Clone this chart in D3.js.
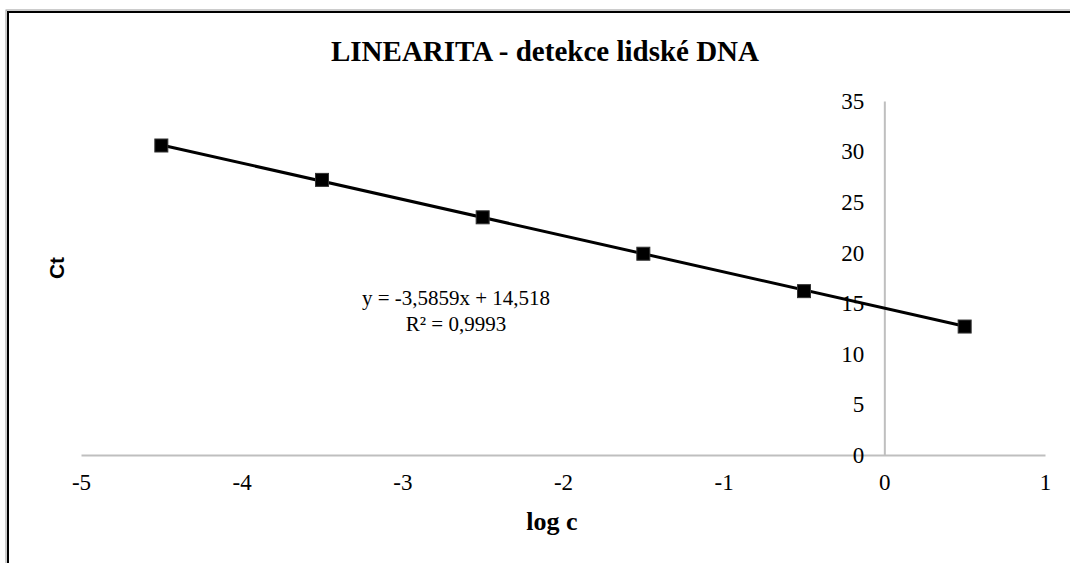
<!DOCTYPE html>
<html>
<head>
<meta charset="utf-8">
<script src="https://cdn.jsdelivr.net/npm/d3@7"></script>
<style>
  body { margin: 0; background: #fff; }
  svg { display: block; }
  .serif { font-family: "Liberation Serif", Tinos, "Times New Roman", Times, serif; }
</style>
</head>
<body>
<svg id="chart" width="1070" height="563"></svg>
<script>
// data
var logC = [-4.5, -3.5, -2.5, -1.5, -0.5, 0.5];
var ct = [30.6, 27.2, 23.5, 19.9, 16.2, 12.7];
var xTicks = [-5, -4, -3, -2, -1, 0, 1];
var yTicks = [0, 5, 10, 15, 20, 25, 30, 35];
// trendline as printed on the chart
var slope = -3.5859;
var intercept = 14.518;
var rSquared = "0,9993";

var svg = d3.select("#chart");

// outer frame (runs off the right and bottom edge)
svg.append("rect")
    .attr("x", 6).attr("y", 10)
    .attr("width", 1200).attr("height", 700)
    .style("fill", "none").style("stroke", "#999").style("stroke-width", 1);
svg.append("rect")
    .attr("x", 8).attr("y", 12)
    .attr("width", 1200).attr("height", 700)
    .style("fill", "none").style("stroke", "#000").style("stroke-width", 2);

var x = d3.scaleLinear().domain([-5, 1]).range([81, 1045]);
var y = d3.scaleLinear().domain([0, 35]).range([455, 101]);

// horizontal axis at y = 0
var xAxis = svg.append("g")
    .attr("transform", "translate(0," + y(0) + ")")
    .call(d3.axisBottom(x).tickValues(xTicks).tickSize(0).tickPadding(19)
        .tickFormat(function(d) { return d; }));
xAxis.attr("font-family", null).attr("font-size", null);
xAxis.select(".domain").style("stroke", "#bfbfbf").style("stroke-width", 2);
xAxis.selectAll("text").attr("class", "serif")
    .style("font-size", "23px").style("fill", "#000");

// vertical axis at x = 0, labels sit left of it
var yAxis = svg.append("g")
    .attr("transform", "translate(" + x(0) + ",0)")
    .call(d3.axisLeft(y).tickValues(yTicks).tickSize(0).tickPadding(20));
yAxis.attr("font-family", null).attr("font-size", null);
yAxis.select(".domain").style("stroke", "#bfbfbf").style("stroke-width", 2);
yAxis.selectAll("text").attr("class", "serif")
    .style("font-size", "23px").style("fill", "#000");

// linear trendline over the data range
var xMin = d3.min(logC), xMax = d3.max(logC);
svg.append("line")
    .attr("x1", x(xMin)).attr("y1", y(slope * xMin + intercept))
    .attr("x2", x(xMax)).attr("y2", y(slope * xMax + intercept))
    .style("stroke", "#000").style("stroke-width", 3);

// square markers
var pts = logC.map(function(d, i) { return {x: d, y: ct[i]}; });
svg.selectAll(".pt")
    .data(pts)
    .enter().append("rect")
    .attr("class", "pt")
    .attr("x", function(d) { return x(d.x) - 6.5; })
    .attr("y", function(d) { return y(d.y) - 6.5; })
    .attr("width", 13).attr("height", 13)
    .style("fill", "#000")
    .style("stroke", "#333").style("stroke-width", 1);

// title
svg.append("text")
    .attr("class", "serif")
    .attr("x", 545).attr("y", 61)
    .attr("text-anchor", "middle")
    .style("font-size", "29px").style("font-weight", "bold")
    .text("LINEARITA - detekce lidské DNA");

// axis titles
svg.append("text")
    .attr("class", "serif")
    .attr("x", 552).attr("y", 530)
    .attr("text-anchor", "middle")
    .style("font-size", "26px").style("font-weight", "bold")
    .text("log c");

svg.append("text")
    .attr("transform", "translate(64,268) rotate(-90)")
    .attr("text-anchor", "middle")
    .style("font-family", "'Liberation Sans', Arial, sans-serif")
    .style("font-size", "21px").style("font-weight", "bold")
    .text("Ct");

// equation label
function fmt(v) { return String(v).replace(".", ","); }
var eq = svg.append("text")
    .attr("class", "serif")
    .attr("text-anchor", "middle")
    .style("font-size", "21px");
eq.append("tspan").attr("x", 456).attr("y", 305)
    .text("y = " + fmt(slope) + "x + " + fmt(intercept));
eq.append("tspan").attr("x", 456).attr("y", 331)
    .text("R² = " + rSquared);
</script>
</body>
</html>
